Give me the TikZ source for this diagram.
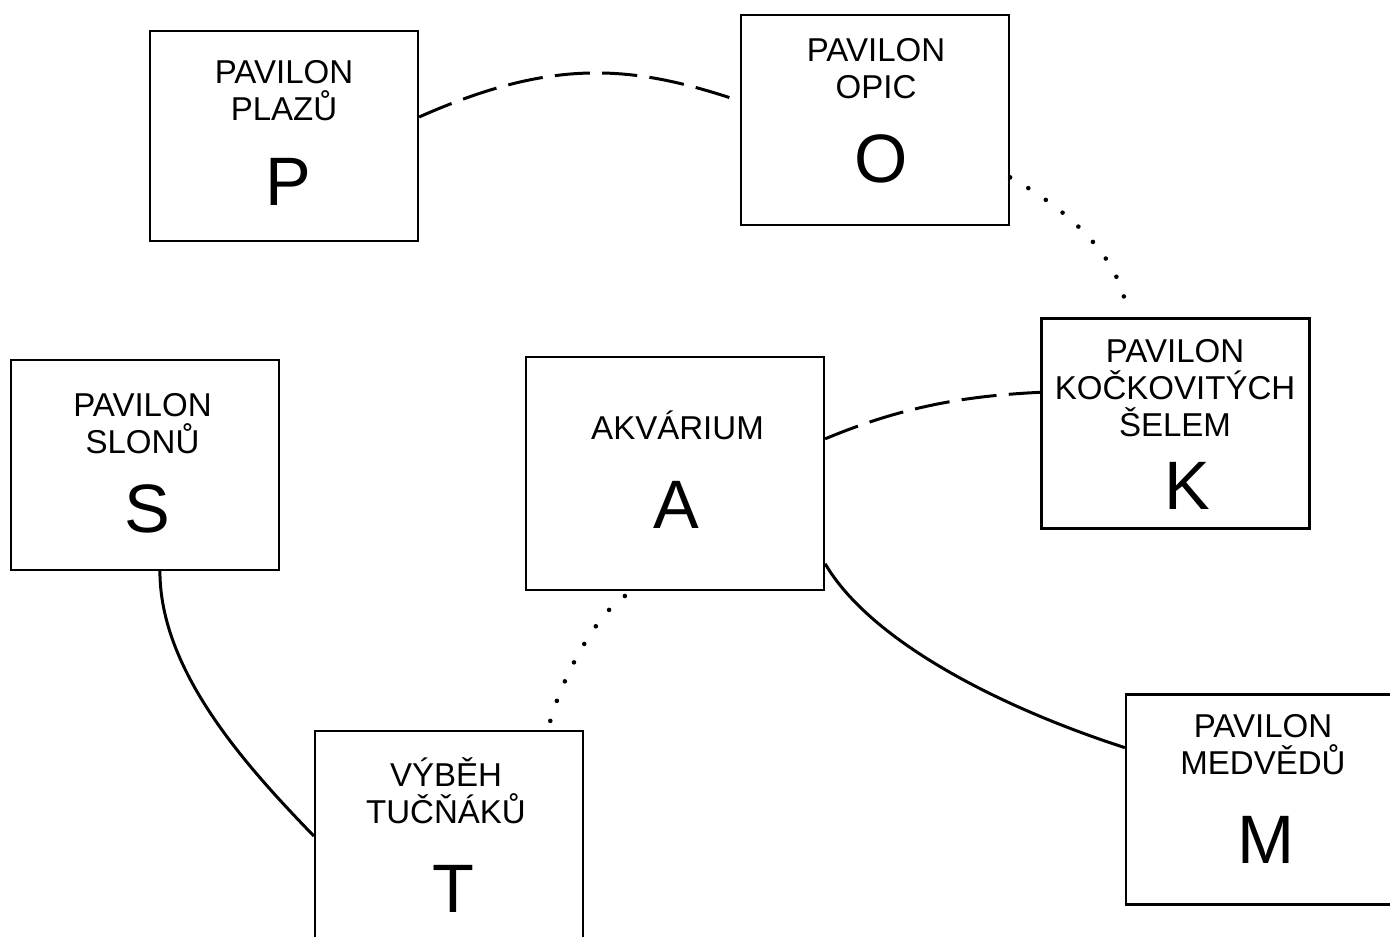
\documentclass[tikz,border=0pt]{standalone}
\usepackage{fontspec}
\setmainfont{Liberation Sans}
\usepackage{tikz}
\tikzset{
  pavilon/.style={draw,line width=1.3pt,minimum width=53.6mm,minimum height=42mm,inner sep=0pt},
  popis/.style={align=center,inner sep=0pt,anchor=base,font=\fontsize{18.8}{21}\selectfont},
  znak/.style={inner sep=0pt,font=\fontsize{39}{39}\selectfont},
  plna/.style={line width=1.7pt},
  carky/.style={line width=1.7pt,dash pattern=on 20pt off 7pt},
  tecky/.style={line width=2.6pt,line cap=round,dash pattern=on 0pt off 12pt}
}
\begin{document}
\begin{tikzpicture}[x=0.2mm,y=-0.2mm]
\useasboundingbox (0,0) rectangle (1390,936);
% pavilony (popis: base = posledni radek)
\node[pavilon] (P) at (284,136){}; \node[popis] (Pp) at (284,120){PAVILON\\PLAZŮ}; \node[znak] (Pz) at (288,181.5){P};
\node[pavilon] (O) at (875,120){}; \node[popis] (Op) at (876,98){PAVILON\\OPIC}; \node[znak] (Oz) at (881,159){O};
\node[pavilon] (K) at (1175.5,423.5){}; \node[popis] (Kp) at (1175,436){PAVILON\\KOČKOVITÝCH\\ŠELEM}; \node[znak] (Kz) at (1187,486){K};
\node[pavilon] (S) at (145,465){}; \node[popis] (Sp) at (142.5,453){PAVILON\\SLONŮ}; \node[znak] (Sz) at (147,508.5){S};
\node[pavilon,minimum width=59.6mm,minimum height=46.6mm] (A) at (675,473.5){}; \node[popis] (Ap) at (677.5,439){AKVÁRIUM}; \node[znak] (Az) at (676,504.5){A};
\node[pavilon] (T) at (449,836){}; \node[popis] (Tp) at (446,823){VÝBĚH\\TUČŇÁKŮ}; \node[znak] (Tz) at (453,888.5){T};
\node[pavilon] (M) at (1260,799.5){}; \node[popis] (Mp) at (1263,774){PAVILON\\MEDVĚDŮ}; \node[znak] (Mz) at (1266,839.5){M};
% cesty
\draw[carky] (P.8) .. controls (554,57) and (633,65) .. (O.172);
\draw[tecky,shorten >=8pt] (O.-23) .. controls (1060,205) and (1115,250) .. (K.114);
\draw[carky] (A.13) .. controls (899,408) and (961,396) .. (K.167);
\draw[plna] (A.-31) .. controls (871,642) and (1002,708) .. (M.159);
\draw[plna] (S.-82) .. controls (160,670) and (244,764) .. (T.west);
\draw[tecky,shorten <=5pt] (A.-110) .. controls (593,617) and (558,686) .. (T.47);
\end{tikzpicture}
\end{document}
